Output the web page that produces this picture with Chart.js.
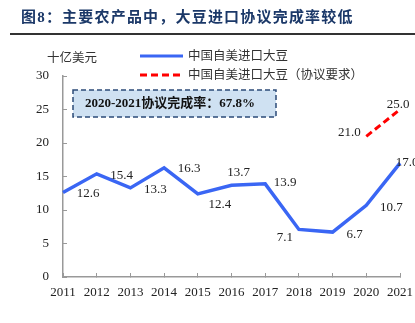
<!DOCTYPE html>
<html>
<head>
<meta charset="utf-8">
<script src="https://cdn.jsdelivr.net/npm/chart.js@4"></script>
<style>
  html, body { margin: 0; padding: 0; background: #fff; }
  #wrap { width: 415px; height: 323px; }
</style>
</head>
<body>
<div id="wrap"><canvas id="chart" width="415" height="323"></canvas></div>
<script>
// data
const years = ['2011', '2012', '2013', '2014', '2015', '2016', '2017', '2018', '2019', '2020', '2021'];
const imports = [12.6, 15.4, 13.3, 16.3, 12.4, 13.7, 13.9, 7.1, 6.7, 10.7, 17.0];
const required = [null, null, null, null, null, null, null, null, null, 21.0, 25.0];
const yTicks = [0, 5, 10, 15, 20, 25, 30];

const titleText = '图8：主要农产品中，大豆进口协议完成率较低';
const unitText = '十亿美元';
const seriesNames = ['中国自美进口大豆', '中国自美进口大豆（协议要求）'];
const boxText = '2020-2021协议完成率：67.8%';

// where each value label sits relative to its point (dx, dy)
const importLabelOffsets = [[25, 1], [25, 2], [25, 2], [25, 1], [22, 11], [7, -13], [20, -1], [-14, 8], [22, 2], [25, 2], [7, -1]];
const requiredLabelOffsets = { 9: [-17, -4], 10: [-2, -5] };

const serif = '"Liberation Serif", "Noto Sans CJK SC", serif';
const blue = '#3a66f4';
const red = '#ff0000';

const extras = {
  id: 'extras',
  beforeDraw(chart) {
    const ctx = chart.ctx;
    ctx.save();
    ctx.fillStyle = '#fff';
    ctx.fillRect(0, 0, chart.width, chart.height);

    // title + rule
    ctx.fillStyle = '#1b3868';
    ctx.font = 'bold 15px "Liberation Serif", "Noto Sans CJK SC", serif';
    ctx.letterSpacing = '1.2px';
    ctx.textBaseline = 'middle';
    ctx.textAlign = 'left';
    ctx.fillText(titleText, 21, 18);
    ctx.letterSpacing = '0px';
    ctx.strokeStyle = '#333';
    ctx.lineWidth = 2;
    ctx.beginPath();
    ctx.moveTo(10, 34);
    ctx.lineTo(415, 34);
    ctx.stroke();

    // unit
    ctx.fillStyle = '#333';
    ctx.font = '12.5px ' + serif;
    ctx.fillText(unitText, 47, 59);

    // legend
    const ds = chart.data.datasets;
    const rows = [56, 75];
    ds.forEach((d, i) => {
      ctx.strokeStyle = d.borderColor;
      ctx.lineWidth = 3;
      ctx.setLineDash(d.borderDash || []);
      ctx.beginPath();
      ctx.moveTo(140, rows[i]);
      ctx.lineTo(183, rows[i]);
      ctx.stroke();
      ctx.setLineDash([]);
      ctx.fillStyle = '#333';
      ctx.font = '12.5px ' + serif;
      ctx.fillText(seriesNames[i], 188, rows[i] + 1);
    });

    // completion box
    ctx.fillStyle = '#cfe1f2';
    ctx.fillRect(73, 90, 203, 27);
    ctx.strokeStyle = '#2d4b78';
    ctx.lineWidth = 1.5;
    ctx.setLineDash([5, 3]);
    ctx.strokeRect(73, 90, 203, 27);
    ctx.setLineDash([]);
    ctx.fillStyle = '#111';
    ctx.font = 'bold 13px ' + serif;
    ctx.fillText(boxText, 85, 104);
    ctx.restore();
  },
  afterDatasetsDraw(chart) {
    const ctx = chart.ctx;
    ctx.save();
    ctx.font = '13px ' + serif;
    ctx.fillStyle = '#222';
    ctx.textAlign = 'center';
    ctx.textBaseline = 'middle';
    const m0 = chart.getDatasetMeta(0);
    imports.forEach((v, i) => {
      const p = m0.data[i];
      const o = importLabelOffsets[i];
      ctx.fillText(v.toFixed(1), p.x + o[0], p.y + o[1]);
    });
    const m1 = chart.getDatasetMeta(1);
    required.forEach((v, i) => {
      if (v === null) return;
      const p = m1.data[i];
      const o = requiredLabelOffsets[i];
      ctx.fillText(v.toFixed(1), p.x + o[0], p.y + o[1]);
    });
    ctx.restore();
  }
};

new Chart(document.getElementById('chart'), {
  type: 'line',
  data: {
    labels: years,
    datasets: [{
      label: seriesNames[0],
      data: imports,
      borderColor: blue,
      borderWidth: 3.5,
      pointRadius: 0,
      tension: 0
    }, {
      label: seriesNames[1],
      data: required,
      borderColor: red,
      borderWidth: 3,
      borderDash: [7, 4],
      pointRadius: 0,
      spanGaps: false
    }]
  },
  options: {
    responsive: false,
    animation: false,
    layout: { padding: { top: 76, right: 15, left: 0, bottom: 0 } },
    plugins: { legend: { display: false }, tooltip: { enabled: false } },
    scales: {
      x: {
        offset: false,
        grid: { drawOnChartArea: false, tickLength: -4, color: '#999', lineWidth: 1 },
        border: { color: '#999', width: 1.5 },
        ticks: { color: '#222', font: { family: serif, size: 13 }, padding: 12, maxRotation: 0, autoSkip: false },
        afterFit(s) { s.height = 46; s.paddingLeft = 0; s.paddingRight = 0; }
      },
      y: {
        min: 0,
        max: 30,
        afterBuildTicks(s) { s.ticks = yTicks.map(v => ({ value: v })); },
        grid: { drawOnChartArea: false, tickLength: -4, color: '#999', lineWidth: 1 },
        border: { color: '#999', width: 1.5 },
        ticks: { color: '#222', font: { family: serif, size: 13 }, padding: 18 },
        afterFit(s) { s.width = 63; s.paddingTop = 0; s.paddingBottom = 0; }
      }
    }
  },
  plugins: [extras]
});
</script>
</body>
</html>
